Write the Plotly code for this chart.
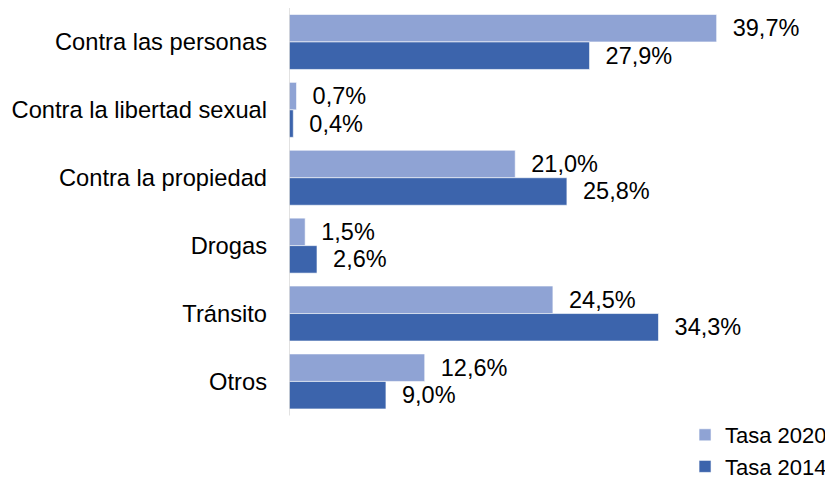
import plotly.graph_objs as go

# categories top to bottom
categorias = ["Contra las personas", "Contra la libertad sexual",
              "Contra la propiedad", "Drogas", "Tránsito", "Otros"]
tasa_2020 = [39.7, 0.7, 21.0, 1.5, 24.5, 12.6]
tasa_2014 = [27.9, 0.4, 25.8, 2.6, 34.3, 9.0]


def etiquetas(valores):
    # comma decimal separator, with a bit of leading space
    return ["  " + f"{v:.1f}%".replace(".", ",") for v in valores]


fig = go.Figure()
fig.add_trace(go.Bar(y=categorias, x=tasa_2020, orientation="h",
                     name="Tasa 2020",
                     marker=dict(color="#8fa3d4",
                                 line=dict(color="white", width=0.6)),
                     text=etiquetas(tasa_2020), textposition="outside",
                     textfont=dict(size=23.5, color="black"),
                     cliponaxis=False))
fig.add_trace(go.Bar(y=categorias, x=tasa_2014, orientation="h",
                     name="Tasa 2014",
                     marker=dict(color="#3c64ac",
                                 line=dict(color="white", width=0.6)),
                     text=etiquetas(tasa_2014), textposition="outside",
                     textfont=dict(size=23.5, color="black"),
                     cliponaxis=False))

# vertical axis line only over the category band
fig.add_shape(type="line", xref="x", yref="y", x0=0, x1=0, y0=-0.5, y1=5.5,
              line=dict(color="#d9d9d9", width=1.5), layer="above")

# page body has an 8px margin, so the figure is drawn 8px smaller
fig.update_layout(
    width=825, height=471,
    margin=dict(l=281, r=0, t=0, b=0, autoexpand=False),
    paper_bgcolor="white", plot_bgcolor="white",
    font=dict(family="Liberation Sans, Arial", size=23, color="black"),
    barmode="group", bargap=0.19, bargroupgap=0,
    xaxis=dict(range=[0, 50.5], visible=False, automargin=False),
    yaxis=dict(range=[6.437, -0.5], showline=False, zeroline=False,
               ticks="", ticklabelstandoff=21, showgrid=False,
               tickfont=dict(size=23.7), automargin=False),
    legend=dict(x=0.728, y=0.138, xanchor="left", yanchor="top",
                font=dict(size=22), tracegroupgap=0,
                bgcolor="rgba(0,0,0,0)"),
)

fig.write_html("out.html")
